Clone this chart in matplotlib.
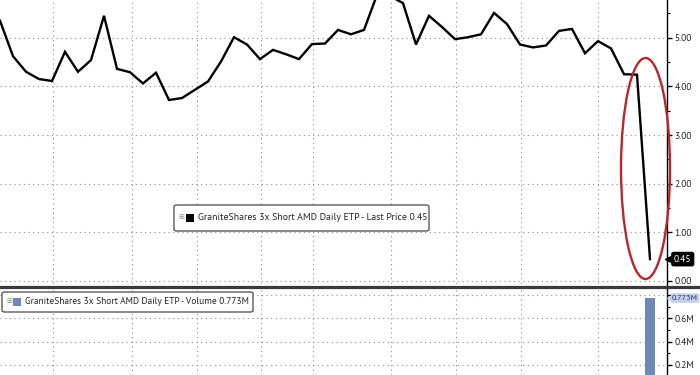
import matplotlib
matplotlib.use('Agg')
import matplotlib.pyplot as plt
import matplotlib.transforms as mtransforms
from matplotlib.patches import Ellipse, FancyBboxPatch, Rectangle
from matplotlib.lines import Line2D
from matplotlib import font_manager
from matplotlib.ticker import FixedLocator, FuncFormatter

installed = {f.name for f in font_manager.fontManager.ttflist}
families = [n for n in ('PT Sans', 'Liberation Sans') if n in installed] + ['DejaVu Sans']
plt.rcParams['font.family'] = families

# ---------------- data ----------------
day_index = list(range(51))
last_price = [5.35, 4.62, 4.30, 4.15, 4.11, 4.71, 4.30, 4.54, 5.45, 4.36,
              4.29, 4.06, 4.28, 3.72, 3.76, 3.93, 4.10, 4.51, 5.01, 4.86,
              4.56, 4.75, 4.66, 4.56, 4.87, 4.88, 5.16, 5.07, 5.16, 5.88,
              5.86, 5.71, 4.86, 5.45, 5.22, 4.97, 5.01, 5.07, 5.51, 5.28,
              4.86, 4.80, 4.84, 5.14, 5.18, 4.68, 4.93, 4.78, 4.25, 4.24,
              0.45]
volume_days = [50]
volume_millions = [0.773]
price_major = [0, 1, 2, 3, 4, 5]
price_minor = [0.5, 1.5, 2.5, 3.5, 4.5, 5.5]
volume_major = [0.2, 0.4, 0.6, 0.8]
volume_minor = [0.3, 0.5, 0.7]
period_marks = [4.08, 10.15, 15.15, 20.08, 24.08, 30.08, 35.08, 40.08, 46.0]
series_name = 'GraniteShares 3x Short AMD Daily ETP'
last_label = '0.45'
volume_label = '0.773M'

# ---------------- layout ----------------
W, H = 700, 375
fig = plt.figure(figsize=(7, 3.75), dpi=100)
fig.patch.set_facecolor('white')
renderer = fig.canvas.get_renderer()

def fx(px):
    return px / W

def fy(py):
    return 1 - py / H

def fit_size(text, target_px, base=7.6):
    t = fig.text(0, 0, text, fontsize=base)
    w = t.get_window_extent(renderer=renderer).width
    t.remove()
    return base * target_px / w

PRICE_LEG = f'{series_name} - Last Price {last_label}'
VOL_LEG = f'{series_name} - Volume {volume_label}'
PRICE_LEG_FS = min(8.5, fit_size(PRICE_LEG, 226))
VOL_LEG_FS = min(8.5, fit_size(VOL_LEG, 222))
TICK_FS = max(6.8, min(8.0, fit_size('5.00', 16.5, 7.5)))
VTAG_FS = min(TICK_FS, fit_size(volume_label, 26, 7.5))

PLOT_R = 667
SPLIT = 288
ax = fig.add_axes([0, fy(SPLIT), fx(PLOT_R), SPLIT / H])
axv = fig.add_axes([0, 0, fx(PLOT_R), (H - SPLIT) / H])

GRID = dict(color='#8c8c8c', linestyle=(0, (1, 3.2)), linewidth=0.8)
for a in (ax, axv):
    a.set_facecolor('white')
    for s in ('left', 'top', 'bottom'):
        a.spines[s].set_visible(False)
    a.spines['right'].set_color('black')
    a.spines['right'].set_linewidth(1.0)
    a.set_xlim(0, PLOT_R / 13.0)
    a.set_xticks(period_marks)
    a.tick_params(axis='x', length=0, labelbottom=False)
    a.yaxis.tick_right()
    a.tick_params(axis='y', which='major', direction='out', length=3.5, width=1,
                  pad=1.8, labelsize=TICK_FS, colors='black', labelcolor='#222222')
    a.tick_params(axis='y', which='minor', direction='out', length=2, width=0.8)
    a.grid(True, which='major', **GRID)
    a.set_axisbelow(True)

# price panel
ax.plot(day_index, last_price, color='black', lw=1.7, solid_joinstyle='miter', zorder=3)
ax.set_ylim(-(SPLIT - 281) / 48.66, 281 / 48.66)
ax.yaxis.set_major_locator(FixedLocator(price_major))
ax.yaxis.set_minor_locator(FixedLocator(price_minor))
ax.yaxis.set_major_formatter(FuncFormatter(lambda v, p: f'{v:.2f}'))

# volume panel (the 0.8M label sits under the last-volume tag, as in the original)
axv.bar(volume_days, volume_millions, width=0.7, color='#7088b8', zorder=3)
axv.set_ylim((388.35 - H) / 116.75, (388.35 - SPLIT) / 116.75)
axv.yaxis.set_major_locator(FixedLocator(volume_major))
axv.yaxis.set_minor_locator(FixedLocator(volume_minor))
axv.yaxis.set_major_formatter(
    FuncFormatter(lambda v, p: '' if v > volume_millions[-1] - 0.05 else f'{v:.1f}M'))

# red highlight ellipse
ell = Ellipse((645.5 / 13.0, (281 - 168.5) / 48.66), 49 / 13.0, 221 / 48.66,
              fill=False, ec='#b8262e', lw=1.7, clip_on=False, zorder=4)
ax.add_patch(ell)

# value tags on the right axis
tp = mtransforms.blended_transform_factory(ax.transAxes, ax.transData)
ax.plot([1.0 + 3 / PLOT_R], [last_price[-1]], marker='<', ms=7, color='black',
        transform=tp, clip_on=False, zorder=5)
ax.text(1.0 + 7 / PLOT_R, last_price[-1], last_label, transform=tp, ha='left', va='center',
        fontsize=TICK_FS, color='white', zorder=6, clip_on=False,
        bbox=dict(boxstyle='round,pad=0.3,rounding_size=0.25', fc='black', ec='none'))

tv = mtransforms.blended_transform_factory(axv.transAxes, axv.transData)
axv.plot([1.0 + 3 / PLOT_R], [volume_millions[-1]], marker='<', ms=5, color='#c3d0e6',
         transform=tv, clip_on=False, zorder=5)
axv.text(1.0 + 5 / PLOT_R, volume_millions[-1], volume_label, transform=tv, ha='left',
         va='center', fontsize=VTAG_FS, color='#1f3a78', zorder=6, clip_on=False,
         bbox=dict(boxstyle='round,pad=0.15,rounding_size=0.2', fc='#c3d0e6', ec='none'))

# divider between panels
fig.add_artist(Line2D([0, 1], [fy(286.5), fy(286.5)], color='#3a3a3a', lw=2.3,
                      transform=fig.transFigure, zorder=5))

# legend boxes
def legend_box(x0, y0, x1, y1, sq_color, text, text_x, fs):
    fig.add_artist(FancyBboxPatch((fx(x0), fy(y1)), fx(x1 - x0), (y1 - y0) / H,
                                  boxstyle='round,pad=0,rounding_size=0.004',
                                  transform=fig.transFigure, fc='white', ec='#5a5a5a',
                                  lw=1.0, zorder=7))
    cy = (y0 + y1) / 2
    fig.text(fx(x0 + 7), fy(cy - 1), '⊞', fontsize=5, color='#8a8a8a', ha='center',
             va='center', family=['DejaVu Sans'], zorder=8)
    fig.add_artist(Rectangle((fx(text_x - 12), fy(cy + 4)), fx(8), 8 / H,
                             transform=fig.transFigure, fc=sq_color, ec='none', zorder=8))
    fig.text(fx(text_x), fy(cy), text, fontsize=fs, color='#222222', ha='left',
             va='center', zorder=8)

legend_box(174, 205, 429, 231, 'black', PRICE_LEG, 198, PRICE_LEG_FS)
legend_box(2, 292, 253, 312, '#7088b8', VOL_LEG, 25, VOL_LEG_FS)

fig.savefig('out.png', dpi=100, facecolor='white')
